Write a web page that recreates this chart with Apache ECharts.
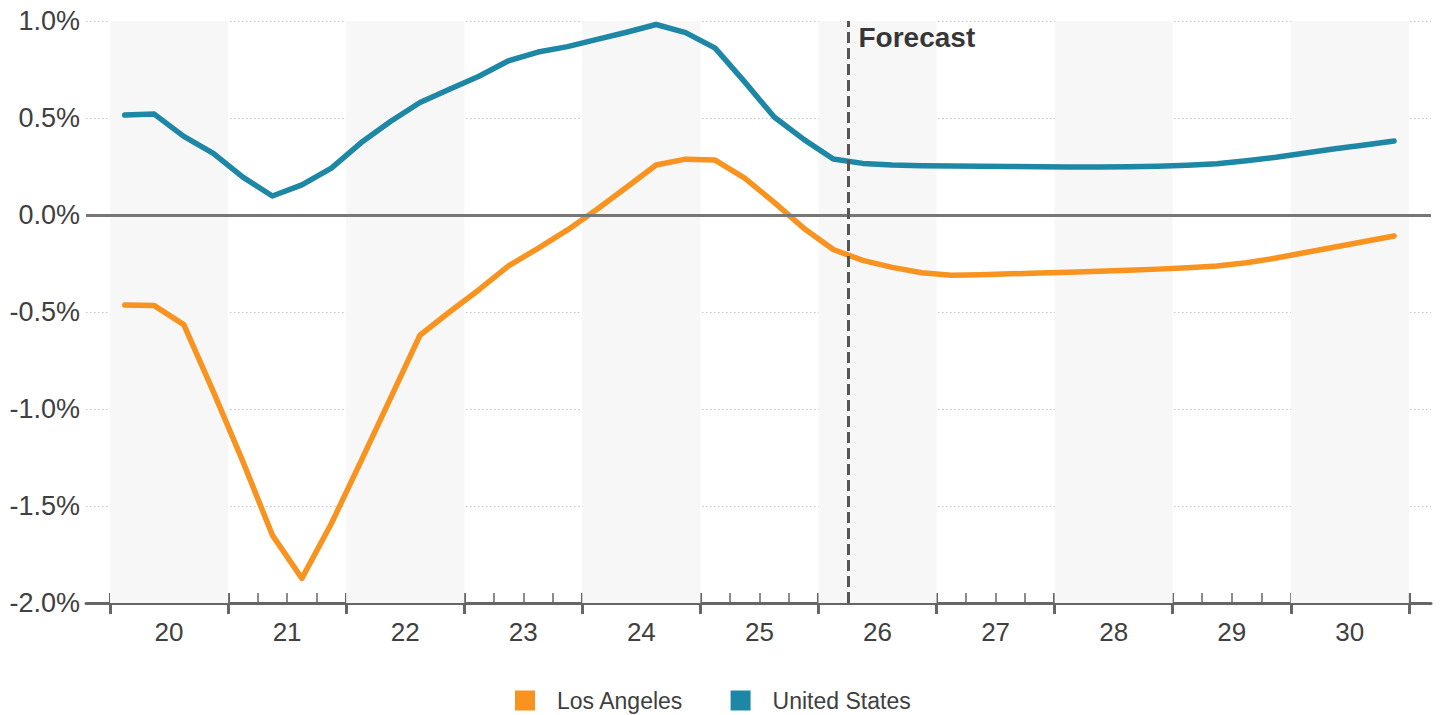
<!DOCTYPE html>
<html>
<head>
<meta charset="utf-8">
<title>Growth: Los Angeles vs United States</title>
<script src="https://cdn.jsdelivr.net/npm/echarts@6/dist/echarts.min.js"></script>
<style>
  html, body { margin: 0; padding: 0; background: #ffffff; }
  #chart { width: 1440px; height: 715px; }
</style>
</head>
<body>
<div id="chart"></div>
<script>
// Year labels on the x axis (two-digit years, four quarters each)
const yearLabels = ['20', '21', '22', '23', '24', '25', '26', '27', '28', '29', '30'];

// Quarterly values, % (2020 Q1 .. 2030 Q4)
const losAngeles = [
  -0.464, -0.467, -0.565, -0.910,
  -1.270, -1.650, -1.873, -1.590,
  -1.270, -0.945, -0.620, -0.500,
  -0.385, -0.262, -0.172, -0.077,
   0.030,  0.143,  0.258,  0.288,
   0.283,  0.190,  0.065, -0.068,
  -0.178, -0.234, -0.270, -0.298,
  -0.310, -0.308, -0.303, -0.299,
  -0.295, -0.290, -0.285, -0.279,
  -0.272, -0.263, -0.246, -0.222,
  -0.193, -0.165, -0.137, -0.108
];
const unitedStates = [
  0.515, 0.520, 0.405, 0.318,
  0.195, 0.098, 0.155, 0.242,
  0.372, 0.482, 0.580, 0.648,
  0.715, 0.795, 0.840, 0.868,
  0.905, 0.942, 0.982, 0.940,
  0.860, 0.686, 0.505, 0.390,
  0.289, 0.266, 0.258, 0.254,
  0.252, 0.251, 0.250, 0.249,
  0.248, 0.248, 0.249, 0.251,
  0.256, 0.264, 0.280, 0.298,
  0.320, 0.341, 0.361, 0.381
];

// Y axis ticks, %
const yTicks = [-2.0, -1.5, -1.0, -0.5, 0.0, 0.5, 1.0];

// Years drawn with a light background band
const shadedYears = ['20', '22', '24', '26', '28', '30'];

// Forecast starts at 2026 Q2
const forecastYear = '26';
const forecastQuarter = 2;
const forecastText = 'Forecast';

const seriesNames = ['Los Angeles', 'United States'];
const seriesColors = ['#f7931e', '#1f87a6'];

// ---- derived positions in quarter units (quarter i spans [i, i+1]) ----
const Q = 4;
const nQuarters = yearLabels.length * Q;
const majorTicks = yearLabels.map((_, i) => i * Q).concat([nQuarters]);
const minorTicks = [];
for (let i = 0; i <= nQuarters; i++) if (i % Q !== 0) minorTicks.push(i);
const labelPos = yearLabels.map((_, i) => i * Q + Q / 2);
const toPoints = arr => arr.map((v, i) => [i + 0.5, v]);
const forecastX = yearLabels.indexOf(forecastYear) * Q + (forecastQuarter - 1);
const bands = shadedYears.map(y => {
  const s = yearLabels.indexOf(y) * Q;
  return [{ xAxis: s }, { xAxis: s + Q }];
});

const FONT = '"Liberation Sans", Arial, Helvetica, sans-serif';
const AXIS_COLOR = '#666666';
const TEXT_COLOR = '#404040';

const xMin = -0.813;
const xMax = nQuarters + 0.75;

function xBase(extra) {
  return Object.assign({
    type: 'value',
    min: xMin,
    max: xMax,
    position: 'bottom',
    splitLine: { show: false },
    splitArea: { show: false },
    axisLabel: { show: false },
    axisLine: { show: false, onZero: false },
    axisTick: { show: false }
  }, extra);
}

const chart = echarts.init(document.getElementById('chart'), null, { renderer: 'svg' });

chart.setOption({
  animation: false,
  backgroundColor: '#ffffff',
  textStyle: { fontFamily: FONT },
  grid: { left: 86, right: 9, top: 21, bottom: 112, containLabel: false },
  legend: {
    data: seriesNames,
    left: 510,
    top: 684,
    icon: 'rect',
    itemWidth: 20,
    itemHeight: 20,
    itemGap: 47,
    selectedMode: false,
    textStyle: { fontSize: 23, color: TEXT_COLOR, fontFamily: FONT, padding: [0, 0, 0, 17] }
  },
  xAxis: [
    // axis line + downward major ticks
    xBase({
      axisLine: { show: true, onZero: false, lineStyle: { color: AXIS_COLOR, width: 3 } },
      axisTick: { show: true, customValues: majorTicks, inside: false, length: 11,
                  lineStyle: { color: AXIS_COLOR, width: 3 } }
    }),
    // upward major ticks
    xBase({
      axisTick: { show: true, customValues: majorTicks, inside: true, length: 10,
                  lineStyle: { color: AXIS_COLOR, width: 3 } }
    }),
    // quarter ticks
    xBase({
      axisTick: { show: true, customValues: minorTicks, inside: true, length: 10,
                  lineStyle: { color: AXIS_COLOR, width: 1.5 } }
    }),
    // year labels centred in each year
    xBase({
      axisLabel: { show: true, customValues: labelPos, margin: 16, fontSize: 26,
                   color: TEXT_COLOR, fontFamily: FONT,
                   formatter: v => yearLabels[Math.floor(v / Q)] }
    })
  ],
  yAxis: {
    type: 'value',
    min: yTicks[0],
    max: yTicks[yTicks.length - 1],
    interval: 0.5,
    axisLine: { show: false },
    axisTick: { show: false },
    axisLabel: { margin: 6, fontSize: 27, color: TEXT_COLOR, fontFamily: FONT,
                 formatter: v => v.toFixed(1) + '%' },
    splitLine: {
      show: true,
      lineStyle: {
        type: [1.5, 2.5],
        width: 1,
        color: yTicks.map(v => (v === 0 ? 'rgba(0,0,0,0)' : '#c4c4c4'))
      }
    }
  },
  series: [
    {
      // background year bands and zero line
      type: 'line',
      data: [],
      z: -1,
      silent: true,
      markArea: {
        silent: true,
        itemStyle: { color: '#f7f7f7' },
        data: bands
      },
      markLine: {
        silent: true,
        symbol: 'none',
        label: { show: false },
        lineStyle: { color: '#777777', width: 3, type: 'solid' },
        data: [{ yAxis: 0 }]
      }
    },
    {
      name: seriesNames[0],
      type: 'line',
      data: toPoints(losAngeles),
      color: seriesColors[0],
      symbol: 'none',
      z: 3,
      lineStyle: { width: 5.5, color: seriesColors[0], cap: 'round', join: 'round' }
    },
    {
      name: seriesNames[1],
      type: 'line',
      data: toPoints(unitedStates),
      color: seriesColors[1],
      symbol: 'none',
      z: 3,
      lineStyle: { width: 5.5, color: seriesColors[1], cap: 'round', join: 'round' }
    },
    {
      // forecast divider and its caption
      type: 'scatter',
      data: [[forecastX, yTicks[yTicks.length - 1]]],
      symbolSize: 1,
      itemStyle: { color: 'rgba(0,0,0,0)' },
      silent: true,
      z: 5,
      label: {
        show: true,
        formatter: forecastText,
        position: [11, 3],
        align: 'left',
        verticalAlign: 'top',
        fontSize: 28,
        fontWeight: 'bold',
        color: '#000000',
        fontFamily: FONT
      },
      markLine: {
        silent: true,
        symbol: 'none',
        label: { show: false },
        lineStyle: { color: '#555555', width: 3, type: [11, 5] },
        data: [{ xAxis: forecastX }]
      }
    }
  ]
});
</script>
</body>
</html>
